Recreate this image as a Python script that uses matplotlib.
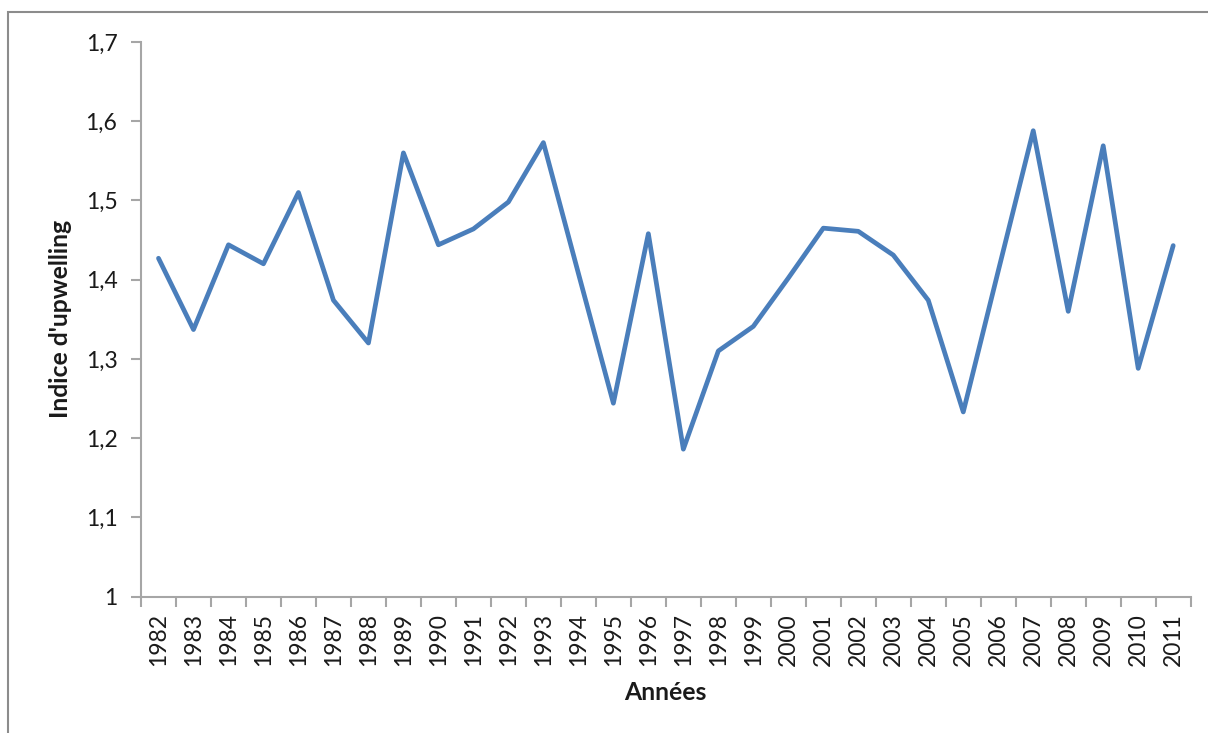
import matplotlib
matplotlib.use("Agg")
import matplotlib.pyplot as plt
from matplotlib.patches import Rectangle
from matplotlib.ticker import FixedLocator, FuncFormatter

years = [str(y) for y in range(1982, 2012)]
upwelling = [1.427, 1.337, 1.444, 1.420, 1.510, 1.374, 1.320, 1.560, 1.444, 1.464,
             1.498, 1.573, 1.408, 1.244, 1.458, 1.186, 1.310, 1.341, 1.402, 1.465,
             1.461, 1.431, 1.374, 1.233, 1.411, 1.588, 1.360, 1.569, 1.288, 1.443]
y_ticks = [1.0, 1.1, 1.2, 1.3, 1.4, 1.5, 1.6, 1.7]

plt.rcParams['font.family'] = ['Lato', 'DejaVu Sans']

W, H = 1208, 733
fig = plt.figure(figsize=(W / 100, H / 100), dpi=100)
fig.patch.set_facecolor('white')

# outer chart-area frame
fig.add_artist(Rectangle((8 / W, -0.05), 1.2, (H - 12) / H + 0.05, transform=fig.transFigure,
                         fill=False, edgecolor='#8c8c8c', linewidth=1.5))

ax = fig.add_axes([141 / W, 1 - 596.5 / H, (1190.7 - 141) / W, (596.5 - 42) / H])
x = list(range(len(years)))
ax.plot(x, upwelling, color='#4a7ebb', linewidth=3.4, solid_joinstyle='round',
        solid_capstyle='round')

ax.set_xlim(-0.5, len(years) - 0.5)
ax.set_ylim(1.0, 1.7)

axis_grey = '#a6a6a6'
for side in ('top', 'right'):
    ax.spines[side].set_visible(False)
for side in ('left', 'bottom'):
    ax.spines[side].set_color(axis_grey)
    ax.spines[side].set_linewidth(1.5)

ax.set_yticks(y_ticks)
ax.yaxis.set_major_formatter(FuncFormatter(
    lambda v, p: '1' if abs(v - 1) < 1e-9 else f'{v:.1f}'.replace('.', ',')))
ax.tick_params(axis='y', direction='out', length=7, width=1.5, color=axis_grey,
               labelsize=16.5, pad=10, labelcolor='#1a1a1a')

ax.set_xticks(x)
ax.set_xticklabels(years, rotation=90)
ax.tick_params(axis='x', which='major', length=0, pad=12, labelsize=16.5,
               labelcolor='#1a1a1a')
ax.xaxis.set_minor_locator(FixedLocator([i - 0.5 for i in range(len(years) + 1)]))
ax.tick_params(axis='x', which='minor', direction='out', length=7, width=1.5,
               color=axis_grey)

fig.text(665 / W, 1 - 693 / H, 'Années', fontsize=17.8, fontweight='bold',
         ha='center', va='center', color='#1a1a1a')
fig.text(61 / W, 1 - 319 / H, "Indice d'upwelling", fontsize=17.8, fontweight='bold',
         ha='center', va='center', rotation=90, color='#1a1a1a')

fig.savefig('out.png', dpi=100, facecolor='white')
